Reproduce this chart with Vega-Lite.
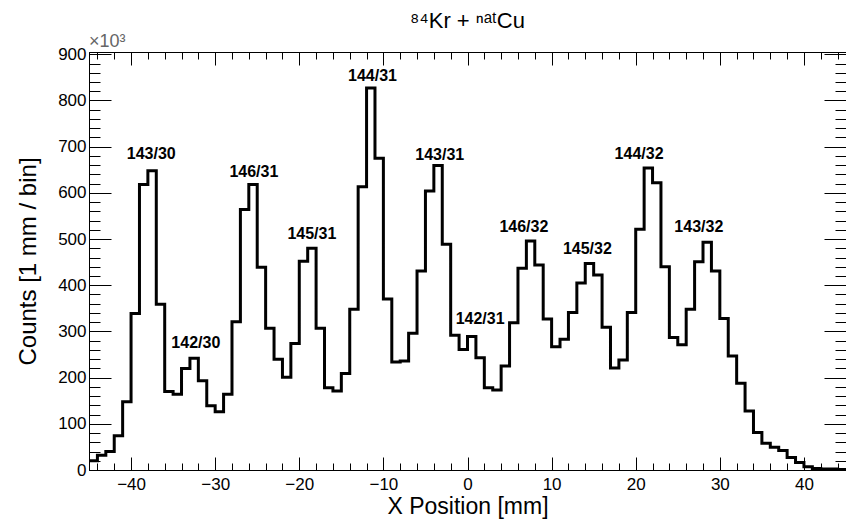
{
  "$schema": "https://vega.github.io/schema/vega-lite/v6.json",
  "width": 757,
  "height": 418,
  "autosize": {"type": "none"},
  "padding": {"left": 89, "top": 52, "right": 0, "bottom": 49},
  "background": "white",
  "config": {
    "view": {"stroke": "#000", "strokeWidth": 1},
    "font": "Liberation Sans"
  },
  "title": {
    "text": "⁸⁴Kr + ⁿᵃᵗCu",
    "font": "Liberation Sans",
    "fontSize": 22,
    "fontWeight": "normal",
    "color": "#000",
    "offset": 0,
    "anchor": "middle"
  },
  "datasets": {
    "hist": [
      {"x": -45, "count": 20}, {"x": -44, "count": 32}, {"x": -43, "count": 40}, {"x": -42, "count": 74},
      {"x": -41, "count": 148}, {"x": -40, "count": 339}, {"x": -39, "count": 618}, {"x": -38, "count": 648},
      {"x": -37, "count": 359}, {"x": -36, "count": 170}, {"x": -35, "count": 164}, {"x": -34, "count": 220},
      {"x": -33, "count": 242}, {"x": -32, "count": 193}, {"x": -31, "count": 139}, {"x": -30, "count": 126},
      {"x": -29, "count": 164}, {"x": -28, "count": 321}, {"x": -27, "count": 564}, {"x": -26, "count": 618},
      {"x": -25, "count": 439}, {"x": -24, "count": 307}, {"x": -23, "count": 240}, {"x": -22, "count": 201},
      {"x": -21, "count": 274}, {"x": -20, "count": 452}, {"x": -19, "count": 480}, {"x": -18, "count": 307},
      {"x": -17, "count": 178}, {"x": -16, "count": 171}, {"x": -15, "count": 209}, {"x": -14, "count": 348},
      {"x": -13, "count": 613}, {"x": -12, "count": 827}, {"x": -11, "count": 675}, {"x": -10, "count": 370},
      {"x": -9, "count": 234}, {"x": -8, "count": 236}, {"x": -7, "count": 296}, {"x": -6, "count": 431},
      {"x": -5, "count": 604}, {"x": -4, "count": 659}, {"x": -3, "count": 489}, {"x": -2, "count": 292},
      {"x": -1, "count": 261}, {"x": 0, "count": 289}, {"x": 1, "count": 243}, {"x": 2, "count": 178},
      {"x": 3, "count": 173}, {"x": 4, "count": 225}, {"x": 5, "count": 319}, {"x": 6, "count": 437},
      {"x": 7, "count": 496}, {"x": 8, "count": 444}, {"x": 9, "count": 327}, {"x": 10, "count": 267},
      {"x": 11, "count": 283}, {"x": 12, "count": 341}, {"x": 13, "count": 405}, {"x": 14, "count": 447},
      {"x": 15, "count": 422}, {"x": 16, "count": 309}, {"x": 17, "count": 221}, {"x": 18, "count": 238},
      {"x": 19, "count": 341}, {"x": 20, "count": 521}, {"x": 21, "count": 654}, {"x": 22, "count": 622},
      {"x": 23, "count": 440}, {"x": 24, "count": 287}, {"x": 25, "count": 271}, {"x": 26, "count": 348},
      {"x": 27, "count": 451}, {"x": 28, "count": 493}, {"x": 29, "count": 431}, {"x": 30, "count": 328},
      {"x": 31, "count": 247}, {"x": 32, "count": 188}, {"x": 33, "count": 128}, {"x": 34, "count": 81},
      {"x": 35, "count": 58}, {"x": 36, "count": 49}, {"x": 37, "count": 42}, {"x": 38, "count": 27},
      {"x": 39, "count": 16}, {"x": 40, "count": 7}, {"x": 41, "count": 3}, {"x": 42, "count": 2},
      {"x": 43, "count": 2}, {"x": 44, "count": 1}, {"x": 45, "count": 1}
    ],
    "labels": [
      {"x": -37.6, "y": 684, "label": "143/30"},
      {"x": -32.3, "y": 276, "label": "142/30"},
      {"x": -25.4, "y": 646, "label": "146/31"},
      {"x": -18.5, "y": 512, "label": "145/31"},
      {"x": -11.3, "y": 853, "label": "144/31"},
      {"x": -3.3, "y": 683, "label": "143/31"},
      {"x": 1.5, "y": 326, "label": "142/31"},
      {"x": 6.7, "y": 527, "label": "146/32"},
      {"x": 14.25, "y": 478, "label": "145/32"},
      {"x": 20.4, "y": 685, "label": "144/32"},
      {"x": 27.5, "y": 527, "label": "143/32"}
    ],
    "mult": [{"x": -45, "y": 905, "label": "×10³"}]
  },
  "resolve": {"axis": {"x": "independent", "y": "independent"}},
  "layer": [
    {
      "data": {"name": "hist"},
      "mark": {"type": "line", "interpolate": "step-after", "color": "#000", "strokeWidth": 3, "clip": true},
      "encoding": {
        "x": {
          "field": "x", "type": "quantitative",
          "scale": {"domain": [-45, 45], "nice": false, "zero": false},
          "axis": {
            "orient": "bottom",
            "title": "X Position [mm]",
            "titleFont": "Liberation Sans", "titleFontSize": 23, "titleFontWeight": "normal", "titleColor": "#000",
            "titleBaseline": "alphabetic", "titleY": 43,
            "values": [-44,-42,-40,-38,-36,-34,-32,-30,-28,-26,-24,-22,-20,-18,-16,-14,-12,-10,-8,-6,-4,-2,0,2,4,6,8,10,12,14,16,18,20,22,24,26,28,30,32,34,36,38,40,42,44],
            "labelExpr": "datum.value % 10 === 0 ? datum.label : ''",
            "labelOverlap": false,
            "labelFont": "Liberation Sans", "labelFontSize": 17, "labelColor": "#000",
            "labelPadding": 19,
            "tickSize": {"expr": "datum.value % 10 === 0 ? -13 : -7"},
            "tickColor": "#000", "tickWidth": 1,
            "domainColor": "#000", "grid": false
          }
        },
        "y": {
          "field": "count", "type": "quantitative",
          "scale": {"domain": [0, 905], "nice": false, "zero": true},
          "axis": {
            "orient": "left",
            "title": "Counts [1 mm / bin]",
            "titleFont": "Liberation Sans", "titleFontSize": 24, "titleFontWeight": "normal", "titleColor": "#000",
            "titleX": -54, "titleBaseline": "alphabetic",
            "values": [0,20,40,60,80,100,120,140,160,180,200,220,240,260,280,300,320,340,360,380,400,420,440,460,480,500,520,540,560,580,600,620,640,660,680,700,720,740,760,780,800,820,840,860,880,900],
            "labelExpr": "datum.value % 100 === 0 ? datum.label : ''",
            "labelOverlap": false,
            "labelFont": "Liberation Sans", "labelFontSize": 17, "labelColor": "#000",
            "labelPadding": 25,
            "tickSize": {"expr": "datum.value % 100 === 0 ? -22 : -11"},
            "tickColor": "#000", "tickWidth": 1,
            "domainColor": "#000", "grid": false
          }
        }
      }
    },
    {
      "data": {"name": "labels"},
      "mark": {"type": "text", "font": "Liberation Sans", "fontWeight": "bold", "fontSize": 16, "color": "#000", "baseline": "middle", "align": "center"},
      "encoding": {
        "x": {
          "field": "x", "type": "quantitative",
          "scale": {"domain": [-45, 45], "nice": false, "zero": false},
          "axis": {
            "orient": "top", "title": null, "labels": false,
            "values": [-44,-42,-40,-38,-36,-34,-32,-30,-28,-26,-24,-22,-20,-18,-16,-14,-12,-10,-8,-6,-4,-2,0,2,4,6,8,10,12,14,16,18,20,22,24,26,28,30,32,34,36,38,40,42,44],
            "tickSize": {"expr": "datum.value % 10 === 0 ? -13 : -7"},
            "tickColor": "#000", "tickWidth": 1, "domainColor": "#000", "grid": false
          }
        },
        "y": {
          "field": "y", "type": "quantitative",
          "scale": {"domain": [0, 905], "nice": false, "zero": true},
          "axis": {
            "orient": "right", "title": null, "labels": false,
            "values": [0,20,40,60,80,100,120,140,160,180,200,220,240,260,280,300,320,340,360,380,400,420,440,460,480,500,520,540,560,580,600,620,640,660,680,700,720,740,760,780,800,820,840,860,880,900],
            "tickSize": {"expr": "datum.value % 100 === 0 ? -22 : -11"},
            "tickColor": "#000", "tickWidth": 1, "domainColor": "#000", "grid": false
          }
        },
        "text": {"field": "label"}
      }
    },
    {
      "data": {"name": "mult"},
      "mark": {"type": "text", "font": "Liberation Sans", "fontSize": 18, "color": "#666", "align": "left", "baseline": "bottom", "dy": -1},
      "encoding": {
        "x": {"field": "x", "type": "quantitative", "scale": {"domain": [-45, 45], "nice": false, "zero": false}, "axis": null},
        "y": {"field": "y", "type": "quantitative", "scale": {"domain": [0, 905], "nice": false, "zero": true}, "axis": null},
        "text": {"field": "label"}
      }
    }
  ]
}
